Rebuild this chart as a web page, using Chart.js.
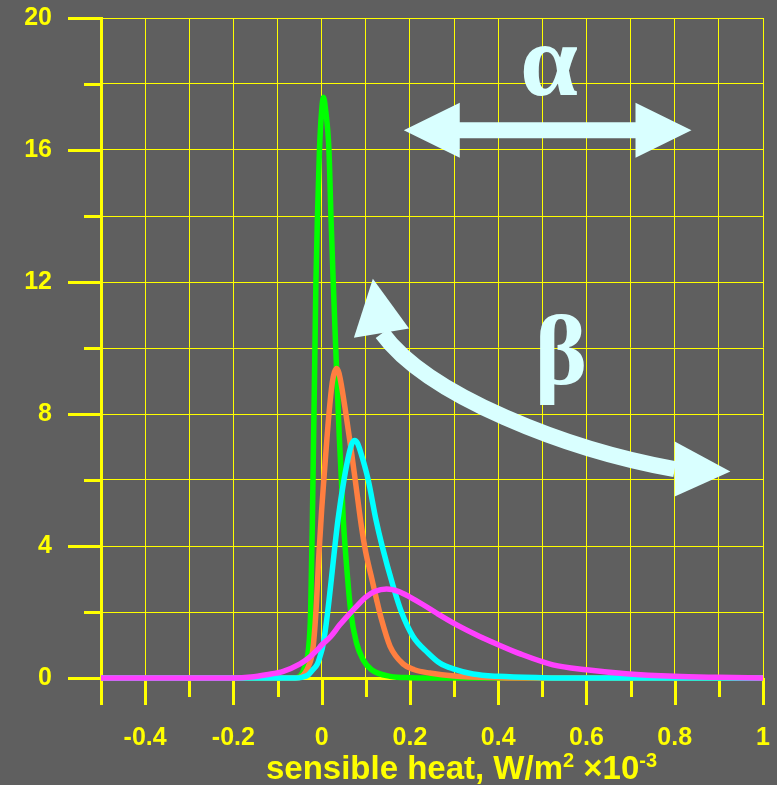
<!DOCTYPE html>
<html>
<head>
<meta charset="utf-8">
<script src="https://cdn.jsdelivr.net/npm/chart.js@4/dist/chart.umd.min.js"></script>
<style>
  html, body { margin: 0; padding: 0; background: #5f5f5f; }
  canvas { display: block; }
</style>
</head>
<body>
<canvas id="c" width="777" height="785"></canvas>
<script>
// ---------- data ----------
const xTickLabels = ['-0.4', '-0.2', '0', '0.2', '0.4', '0.6', '0.8', '1'];
const yTickLabels = ['0', '4', '8', '12', '16', '20'];

// sensible heat (W/m² ×10⁻³) and probability density for each curve
const greenX = [-0.5, -0.1, -0.06, -0.048, -0.042, -0.038, -0.03, -0.025, -0.021, -0.018, -0.015, -0.013, -0.0095, -0.005, 0.0, 0.004, 0.009, 0.0165, 0.021, 0.026, 0.031, 0.04, 0.049, 0.053, 0.066, 0.079, 0.094, 0.113, 0.155, 0.2, 0.3, 1.0];
const greenY = [0, 0, 0, 0.07, 0.2, 0.35, 0.86, 2.0, 4.8, 7.5, 10.2, 12.0, 14.0, 16.0, 17.2, 17.6, 17.2, 16.0, 14.0, 12.07, 10.3, 7.3, 4.8, 4.0, 2.0, 1.06, 0.55, 0.25, 0.05, 0.01, 0, 0];

const orangeX = [-0.5, -0.1, -0.058, -0.045, -0.038, -0.03, -0.02, -0.013, -0.006, 0.0, 0.006, 0.0165, 0.024, 0.029, 0.034, 0.039, 0.045, 0.055, 0.068, 0.079, 0.09, 0.1, 0.112, 0.124, 0.135, 0.155, 0.185, 0.21, 0.245, 0.3, 0.4, 0.5, 1.0];
const orangeY = [0, 0, 0, 0.05, 0.15, 0.35, 0.86, 2.0, 3.8, 5.1, 6.2, 8.0, 8.95, 9.27, 9.38, 9.25, 8.85, 8.0, 6.8, 5.7, 4.6, 3.8, 3.1, 2.4, 1.8, 0.96, 0.42, 0.25, 0.15, 0.06, 0.01, 0, 0];

const cyanX = [-0.5, -0.1, -0.06, -0.045, -0.03, -0.02, -0.01, -0.005, 0.004, 0.0136, 0.022, 0.03, 0.037, 0.0505, 0.063, 0.069, 0.075, 0.081, 0.087, 0.1055, 0.123, 0.137, 0.162, 0.181, 0.207, 0.241, 0.268, 0.3, 0.343, 0.4, 0.5, 0.6, 1.0];
const cyanY = [0, 0, 0, 0.02, 0.1, 0.25, 0.42, 0.6, 1.06, 2.0, 3.0, 4.0, 4.8, 6.0, 6.85, 7.12, 7.2, 7.12, 6.9, 6.0, 4.8, 4.0, 2.78, 1.99, 1.26, 0.76, 0.45, 0.27, 0.12, 0.05, 0.01, 0, 0];

const magentaX = [-0.5, -0.2, -0.16, -0.125, -0.087, -0.05, -0.03, -0.01, 0.0, 0.02, 0.041, 0.06, 0.079, 0.1, 0.12, 0.147, 0.175, 0.2, 0.23, 0.26, 0.306, 0.358, 0.4, 0.45, 0.524, 0.6, 0.69, 0.8, 0.9, 1.0];
const magentaY = [0, 0, 0.03, 0.1, 0.2, 0.42, 0.6, 0.85, 1.0, 1.25, 1.61, 1.9, 2.17, 2.45, 2.62, 2.7, 2.62, 2.45, 2.22, 1.97, 1.61, 1.26, 1.01, 0.73, 0.4, 0.25, 0.13, 0.05, 0.02, 0];

// ---------- styling ----------
const BG = '#5f5f5f';
const YELLOW = '#ffff00';
const ARROW = '#d9ffff';
const NONE = 'rgba(0,0,0,0)';
const SANS = "'Liberation Sans', Arial, sans-serif";
const SERIF = "'Liberation Serif', 'Times New Roman', serif";

const toPoints = (xs, ys) => xs.map((x, i) => ({ x: x, y: ys[i] }));

function series(xs, ys, color, order) {
  return {
    data: toPoints(xs, ys),
    borderColor: color,
    borderWidth: 5.5,
    pointRadius: 0,
    fill: false,
    cubicInterpolationMode: 'monotone',
    clip: false,
    order: order
  };
}

// paint background
const backgroundPlugin = {
  id: 'bg',
  beforeDraw(chart) {
    const ctx = chart.ctx;
    ctx.save();
    ctx.fillStyle = BG;
    ctx.fillRect(0, 0, chart.width, chart.height);
    ctx.restore();
  }
};

// major / minor tick marks on both axes
const tickMarksPlugin = {
  id: 'tickMarks',
  beforeDatasetsDraw(chart) {
    const ctx = chart.ctx, xs = chart.scales.x, ys = chart.scales.y, area = chart.chartArea;
    ctx.save();
    ctx.strokeStyle = YELLOW;
    ctx.lineWidth = 3;
    ctx.beginPath();
    for (let i = -5; i <= 10; i++) {
      const px = Math.round(xs.getPixelForValue(i / 10)) + 0.5;
      const len = (i % 2 === 0 || i === -5) ? 27 : 19;
      ctx.moveTo(px, area.bottom);
      ctx.lineTo(px, area.bottom + len);
    }
    for (let j = 0; j <= 10; j++) {
      const py = Math.round(ys.getPixelForValue(j * 2)) + 0.5;
      const len = (j % 2 === 0) ? 33 : 17;
      ctx.moveTo(area.left, py);
      ctx.lineTo(area.left - len, py);
    }
    ctx.stroke();
    ctx.restore();
  }
};

// axis title with superscripts
const axisTitlePlugin = {
  id: 'axisTitle',
  afterDraw(chart) {
    const ctx = chart.ctx;
    const parts = [
      { t: 'sensible heat, W/m', sup: false },
      { t: '2', sup: true },
      { t: ' \u00d710', sup: false },
      { t: '-3', sup: true }
    ];
    const big = 'bold 33px ' + SANS, small = 'bold 20px ' + SANS;
    ctx.save();
    ctx.fillStyle = YELLOW;
    ctx.textBaseline = 'alphabetic';
    let total = 0;
    parts.forEach(p => { ctx.font = p.sup ? small : big; p.w = ctx.measureText(p.t).width; total += p.w; });
    let x = 461.5 - total / 2;
    const base = 779;
    parts.forEach(p => {
      ctx.font = p.sup ? small : big;
      ctx.fillText(p.t, x, p.sup ? base - 12 : base);
      x += p.w;
    });
    ctx.restore();
  }
};

// alpha / beta arrows and symbols
const annotationPlugin = {
  id: 'greekArrows',
  afterDraw(chart) {
    const ctx = chart.ctx, xs = chart.scales.x, ys = chart.scales.y;
    const P = (x, y) => [xs.getPixelForValue(x), ys.getPixelForValue(y)];
    ctx.save();
    ctx.fillStyle = ARROW;
    ctx.strokeStyle = ARROW;

    // horizontal double arrow (alpha)
    const [lx, ay] = P(0.186, 16.6);
    const [rx] = P(0.838, 16.6);
    const head = 56, hh = 27.5, sh = 8;
    ctx.beginPath();
    ctx.moveTo(lx, ay);
    ctx.lineTo(lx + head, ay - hh);
    ctx.lineTo(lx + head, ay - sh);
    ctx.lineTo(rx - head, ay - sh);
    ctx.lineTo(rx - head, ay - hh);
    ctx.lineTo(rx, ay);
    ctx.lineTo(rx - head, ay + hh);
    ctx.lineTo(rx - head, ay + sh);
    ctx.lineTo(lx + head, ay + sh);
    ctx.lineTo(lx + head, ay + hh);
    ctx.closePath();
    ctx.fill();

    // curved double arrow (beta)
    const p0 = P(0.137, 10.45), p1 = P(0.241, 8.55), p2 = P(0.555, 6.92), p3 = P(0.8, 6.33);
    ctx.lineWidth = 16;
    ctx.lineCap = 'butt';
    ctx.beginPath();
    ctx.moveTo(p0[0], p0[1]);
    ctx.bezierCurveTo(p1[0], p1[1], p2[0], p2[1], p3[0], p3[1]);
    ctx.stroke();

    const tri = (a, b, c) => {
      ctx.beginPath();
      ctx.moveTo(a[0], a[1]); ctx.lineTo(b[0], b[1]); ctx.lineTo(c[0], c[1]);
      ctx.closePath(); ctx.fill();
    };
    tri(P(0.116, 12.1), P(0.073, 10.31), P(0.198, 10.59));
    tri(P(0.8, 7.17), P(0.926, 6.26), P(0.8, 5.50));

    // symbols
    ctx.font = 'bold 104px ' + SERIF;
    ctx.textAlign = 'center';
    ctx.textBaseline = 'alphabetic';
    const a = P(0.515, 17.68);
    ctx.fillText('\u03b1', a[0], a[1]);
    ctx.font = 'bold 100px ' + SERIF;
    const b = P(0.542, 8.92);
    ctx.fillText('\u03b2', b[0], b[1]);
    ctx.restore();
  }
};

const labelFont = { family: SANS, size: 25, weight: 'bold' };

new Chart(document.getElementById('c'), {
  type: 'line',
  data: {
    datasets: [
      series(greenX, greenY, '#00ff00', 3),
      series(orangeX, orangeY, '#ff7f40', 2),
      series(cyanX, cyanY, '#00ffff', 1),
      series(magentaX, magentaY, '#ff40ff', 0)
    ]
  },
  plugins: [backgroundPlugin, tickMarksPlugin, axisTitlePlugin, annotationPlugin],
  options: {
    responsive: false,
    animation: false,
    devicePixelRatio: 1,
    layout: { padding: { top: 18, right: 14, left: 0, bottom: 0 } },
    plugins: { legend: { display: false }, tooltip: { enabled: false } },
    scales: {
      x: {
        type: 'linear',
        min: -0.5,
        max: 1,
        afterFit(scale) { scale.height = 107; scale.paddingLeft = 0; scale.paddingRight = 0; },
        grid: { color: YELLOW, lineWidth: 1, drawTicks: true, tickLength: 45, tickColor: NONE },
        border: { color: YELLOW, width: 3 },
        ticks: {
          stepSize: 0.1,
          autoSkip: false,
          maxRotation: 0,
          padding: 0,
          color: YELLOW,
          font: labelFont,
          callback(v) {
            const n = Math.round(v * 10);
            if (n % 2 !== 0 || n < -4) return '';
            return xTickLabels[(n + 4) / 2];
          }
        }
      },
      y: {
        type: 'linear',
        min: 0,
        max: 20,
        afterFit(scale) { scale.width = 101; scale.paddingTop = 0; scale.paddingBottom = 0; },
        grid: { color: YELLOW, lineWidth: 1, drawTicks: true, tickLength: 49, tickColor: NONE },
        border: { color: YELLOW, width: 3 },
        ticks: {
          stepSize: 2,
          autoSkip: false,
          padding: 0,
          color: YELLOW,
          font: labelFont,
          callback(v) {
            const n = Math.round(v);
            if (n % 4 !== 0) return '';
            return yTickLabels[n / 4];
          }
        }
      }
    }
  }
});
</script>
</body>
</html>
